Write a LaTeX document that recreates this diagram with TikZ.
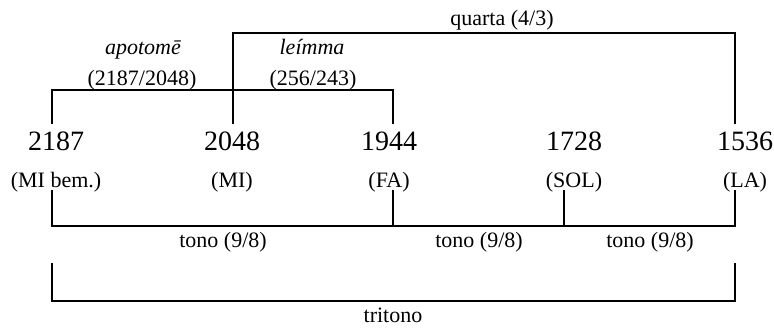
\documentclass[tikz,border=0pt]{standalone}
\usepackage{fontspec}
\setmainfont{Liberation Serif}

\tikzset{
  numero/.style={font=\fontsize{14}{16}\selectfont, inner sep=1pt, anchor=base},
  nome/.style={font=\fontsize{11}{13}\selectfont, inner sep=1pt, anchor=base},
  razao/.style={font=\fontsize{11}{13}\selectfont, inner sep=1pt, anchor=base},
  chave/.style={line width=0.6pt},
}

\begin{document}
\begin{tikzpicture}[x=0.5pt,y=-0.5pt]
  \useasboundingbox (0,0) rectangle (774,327);

  % numeros e notas
  \node[numero] (mib) at (56,150) {2187};
  \node[numero] (mi)  at (232,150) {2048};
  \node[numero] (fa)  at (389,150) {1944};
  \node[numero] (sol) at (574,150) {1728};
  \node[numero] (la)  at (745,150) {1536};

  \node[nome] (mib-nome) at ([yshift=-18.5pt]mib.base) {(MI bem.)};
  \node[nome] (mi-nome)  at ([yshift=-18.5pt]mi.base)  {(MI)};
  \node[nome] (fa-nome)  at ([yshift=-18.5pt]fa.base)  {(FA)};
  \node[nome] (sol-nome) at ([yshift=-18.5pt]sol.base) {(SOL)};
  \node[nome] (la-nome)  at ([yshift=-18.5pt]la.base)  {(LA)};

  % pontas das chaves
  \foreach \n/\dx in {mib/-2, mi/0.5, fa/2, sol/-5, la/-5} {
    \coordinate (\n-cima)  at ([xshift=\dx pt, yshift=13pt]\n.base);
    \coordinate (\n-baixo) at ([xshift=\dx pt, yshift=-1.5pt]\n-nome.base);
  }
  \coordinate (nivel1) at (0,90);
  \coordinate (nivel2) at (0,33);
  \coordinate (nivel3) at (0,226);
  \coordinate (tri)    at (0,263);
  \coordinate (nivel4) at (0,301);

  % chaves de cima
  \draw[chave] (mib-cima) |- (nivel1 -| fa-cima) -- (fa-cima);
  \draw[chave] (mi-cima) |- (nivel2 -| la-cima) -- (la-cima);

  % chaves de baixo
  \draw[chave] (mib-baixo) |- (nivel3 -| la-baixo) -- (la-baixo);
  \draw[chave] (fa-baixo) -- (fa-baixo |- nivel3);
  \draw[chave] (sol-baixo) -- (sol-baixo |- nivel3);
  \draw[chave] (mib-baixo |- tri) |- (nivel4 -| la-baixo) -- (la-baixo |- tri);

  % intervalos
  \node[razao] (apo)  at (143,54) {\itshape apotom\=e};
  \node[razao] (apo-r) at (142,85) {(2187/2048)};
  \node[razao] (lei)  at (312,54) {\itshape le\'{\i}mma};
  \node[razao] (lei-r) at (313,85) {(256/243)};
  \node[razao] (quarta) at (502,25) {quarta (4/3)};
  \node[razao] (tono1) at (223,247) {tono (9/8)};
  \node[razao] (tono2) at (479,247) {tono (9/8)};
  \node[razao] (tono3) at (650,247) {tono (9/8)};
  \node[razao] (tritono) at (393,322) {tritono};
\end{tikzpicture}
\end{document}
